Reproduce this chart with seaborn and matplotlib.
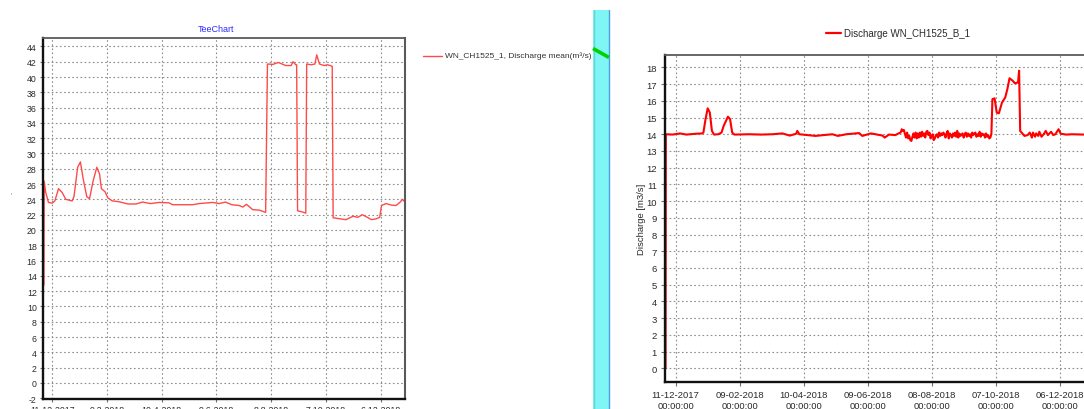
import matplotlib
matplotlib.use("Agg")
import matplotlib.pyplot as plt
from matplotlib.patches import Rectangle
from matplotlib.lines import Line2D
import pandas as pd
import seaborn as sns

# ---------------------------------------------------------------- data
# Left panel: WN_CH1525_1, discharge mean (m³/s)
left_dates = [
    "2017-12-02 00:00", "2017-12-02 06:00", "2017-12-04", "2017-12-07", "2017-12-11",
    "2017-12-14", "2017-12-18", "2017-12-22", "2017-12-26", "2018-01-02", "2018-01-04",
    "2018-01-08", "2018-01-11", "2018-01-14", "2018-01-18", "2018-01-21", "2018-01-25",
    "2018-01-29", "2018-02-01", "2018-02-03", "2018-02-07", "2018-02-10", "2018-02-15",
    "2018-02-22", "2018-03-04", "2018-03-13", "2018-03-20", "2018-03-29", "2018-04-07",
    "2018-04-18", "2018-04-22", "2018-05-07", "2018-05-14", "2018-05-21", "2018-06-05",
    "2018-06-12", "2018-06-19", "2018-06-26", "2018-07-04", "2018-07-08", "2018-07-12",
    "2018-07-19", "2018-07-26", "2018-08-02", "2018-08-04", "2018-08-10", "2018-08-16",
    "2018-08-24", "2018-08-30", "2018-09-01", "2018-09-04", "2018-09-05", "2018-09-06",
    "2018-09-10", "2018-09-15", "2018-09-16", "2018-09-21", "2018-09-25", "2018-09-27",
    "2018-09-30", "2018-10-05", "2018-10-09", "2018-10-14", "2018-10-15", "2018-10-20",
    "2018-10-29", "2018-11-06", "2018-11-11", "2018-11-16", "2018-11-20", "2018-11-26",
    "2018-12-01", "2018-12-05", "2018-12-07", "2018-12-12", "2018-12-18", "2018-12-23",
    "2018-12-27", "2018-12-30", "2019-01-01",
]
left_values = [
    12.8, 26.4, 24.9, 23.6, 23.5,
    23.8, 25.4, 24.9, 24.0, 23.8, 24.4,
    28.2, 28.9, 26.7, 24.35, 24.1, 26.45,
    28.2, 27.3, 25.4, 25.0, 24.2, 23.8,
    23.7, 23.4, 23.4, 23.65, 23.45, 23.6,
    23.55, 23.3, 23.3, 23.3, 23.45, 23.6,
    23.45, 23.65, 23.3, 23.2, 23.0, 23.35,
    22.65, 22.6, 22.3, 41.7, 41.65, 41.9,
    41.5, 41.5, 42.0, 41.6, 41.6, 22.5,
    22.4, 22.2, 41.7, 41.6, 41.7, 42.9,
    41.7, 41.5, 41.6, 41.4, 21.6, 21.5,
    21.35, 21.8, 21.65, 22.0, 21.75, 21.35,
    21.45, 21.65, 23.2, 23.45, 23.25, 23.2,
    23.6, 24.0, 23.75,
]

# Right panel: Discharge WN_CH1525_B_1 (m3/s)
right_dates = [
    "2017-12-01 12:00", "2017-12-01 18:00", "2017-12-08", "2017-12-15", "2017-12-21",
    "2017-12-30", "2018-01-05", "2018-01-06", "2018-01-08", "2018-01-10", "2018-01-12",
    "2018-01-14", "2018-01-16", "2018-01-20", "2018-01-23", "2018-01-25", "2018-01-29",
    "2018-01-31", "2018-02-02", "2018-02-04", "2018-02-18", "2018-03-01", "2018-03-12",
    "2018-03-21", "2018-03-28", "2018-04-03", "2018-04-04", "2018-04-06", "2018-04-21",
    "2018-05-07", "2018-05-12", "2018-05-20", "2018-06-01", "2018-06-04", "2018-06-12",
    "2018-06-23", "2018-06-25", "2018-06-29", "2018-07-05", "2018-07-08", "2018-07-10",
    "2018-07-11", "2018-07-12", "2018-07-13", "2018-07-14", "2018-07-15", "2018-07-16",
    "2018-07-17", "2018-07-18", "2018-07-19", "2018-07-20", "2018-07-21", "2018-07-22",
    "2018-07-23", "2018-07-24", "2018-07-25", "2018-07-26", "2018-07-27", "2018-07-28",
    "2018-07-29", "2018-07-30", "2018-07-31", "2018-08-01", "2018-08-02", "2018-08-03",
    "2018-08-04", "2018-08-05", "2018-08-06", "2018-08-07", "2018-08-08", "2018-08-09",
    "2018-08-10", "2018-08-11", "2018-08-12", "2018-08-13", "2018-08-14", "2018-08-15",
    "2018-08-16", "2018-08-17", "2018-08-18", "2018-08-19", "2018-08-20", "2018-08-21",
    "2018-08-22", "2018-08-23", "2018-08-24", "2018-08-25", "2018-08-26", "2018-08-27",
    "2018-08-28", "2018-08-29", "2018-08-30", "2018-08-31", "2018-09-01", "2018-09-02",
    "2018-09-03", "2018-09-04", "2018-09-06", "2018-09-07", "2018-09-08", "2018-09-09",
    "2018-09-10", "2018-09-11", "2018-09-12", "2018-09-13", "2018-09-14", "2018-09-15",
    "2018-09-16", "2018-09-17", "2018-09-18", "2018-09-19", "2018-09-20", "2018-09-21",
    "2018-09-22", "2018-09-23", "2018-09-24", "2018-09-25", "2018-09-26", "2018-09-27",
    "2018-09-28", "2018-09-29", "2018-09-30", "2018-10-01", "2018-10-02", "2018-10-03",
    "2018-10-04", "2018-10-06", "2018-10-08", "2018-10-10", "2018-10-13", "2018-10-16",
    "2018-10-18", "2018-10-20", "2018-10-23", "2018-10-25", "2018-10-28", "2018-10-29",
    "2018-10-30", "2018-11-01", "2018-11-03", "2018-11-06", "2018-11-08", "2018-11-10",
    "2018-11-11", "2018-11-13", "2018-11-14", "2018-11-16", "2018-11-17", "2018-11-19",
    "2018-11-21", "2018-11-23", "2018-11-25", "2018-11-28", "2018-11-30", "2018-12-02",
    "2018-12-05", "2018-12-07", "2018-12-12", "2018-12-18", "2018-12-28", "2019-01-03",
]
right_values = [
    0.0, 14.0, 13.98, 14.05, 13.98,
    14.03, 14.05, 14.1, 14.9, 15.55, 15.3,
    14.2, 13.98, 14.0, 14.1, 14.5, 15.05,
    14.9, 14.1, 13.98, 14.0, 13.98, 14.0,
    14.05, 13.92, 14.03, 14.2, 14.0, 13.9,
    14.0, 13.9, 14.0, 14.07, 13.9, 14.05,
    13.92, 13.8, 13.98, 13.95, 14.05, 14.1,
    14.3, 14.2, 14.25, 14.0, 13.8, 14.1,
    13.75, 13.9, 13.65, 13.6, 13.85, 14.05,
    13.8, 14.1, 13.75, 14.05, 13.8, 14.1,
    13.85, 14.15, 13.9, 14.05, 13.8, 14.15,
    14.2, 13.95, 14.1, 13.75, 13.9, 14.0,
    13.65, 13.75, 13.95, 14.0, 13.8, 14.1,
    13.9, 14.05, 13.95, 14.1, 14.0, 13.8,
    14.05, 14.2, 13.75, 14.05, 13.95, 13.8,
    14.05, 13.9, 14.1, 13.85, 14.2, 13.8,
    14.05, 13.9, 14.05, 13.8, 14.0, 14.1,
    13.85, 14.05, 13.9, 14.0, 13.8, 14.1,
    13.95, 14.05, 14.1, 13.85, 14.0, 13.9,
    14.15, 13.85, 14.05, 13.95, 14.0, 13.8,
    14.05, 13.85, 13.95, 13.75, 13.8, 14.0,
    16.1, 16.15, 15.3, 15.25, 15.9, 16.2,
    16.7, 17.35, 17.2, 17.05, 17.1, 17.8,
    14.2, 14.05, 13.9, 13.95, 14.1, 13.8,
    14.1, 13.85, 14.05, 13.9, 14.15, 13.85,
    14.0, 14.2, 13.95, 14.15, 13.95, 14.0,
    14.3, 14.03, 13.98, 14.0, 13.98, 14.0,
]

tick_dates = ["2017-12-11", "2018-02-09", "2018-04-10", "2018-06-09",
              "2018-08-08", "2018-10-07", "2018-12-06"]
left_tick_labels = ["11-12-2017", "9-2-2018", "10-4-2018", "9-6-2018",
                    "8-8-2018", "7-10-2018", "6-12-2018"]
right_tick_labels = ["11-12-2017\n00:00:00", "09-02-2018\n00:00:00", "10-04-2018\n00:00:00",
                     "09-06-2018\n00:00:00", "08-08-2018\n00:00:00", "07-10-2018\n00:00:00",
                     "06-12-2018\n00:00:00"]
left_yticks = list(range(-2, 45, 2))
right_yticks = list(range(0, 19, 1))


def to_time(values):
    return pd.to_datetime(values, format="ISO8601")


# ---------------------------------------------------------------- figure
sns.set_theme(style="white")
plt.rcParams["font.family"] = ["Liberation Sans", "DejaVu Sans"]
plt.rcParams["axes.unicode_minus"] = False

W, H = 1084, 410
fig = plt.figure(figsize=(W / 100, H / 100), dpi=100)
fig.patch.set_facecolor("white")


def px_axes(x0, y0, x1, y1):
    """Axes placed by pixel box (top-left origin)."""
    return fig.add_axes([x0 / W, 1 - y1 / H, (x1 - x0) / W, (y1 - y0) / H])


def style_axes(ax, spine_lw, fsize, tick_len):
    ax.set_facecolor("white")
    ax.set_axisbelow(True)
    ax.grid(True, color="#8e8e8e", linestyle=(0, (1.5, 2.2)), linewidth=0.8)
    ax.tick_params(axis="both", which="both", left=True, bottom=True,
                   length=tick_len, width=0.8, color="#707070",
                   labelsize=fsize, labelcolor="#2a2a2a", pad=2)
    for side in ("left", "bottom"):
        ax.spines[side].set_color("#111111")
        ax.spines[side].set_linewidth(spine_lw)
    for side in ("top", "right"):
        ax.spines[side].set_color("#5a5a5a")
        ax.spines[side].set_linewidth(1.3)
    ax.set_xlabel("")
    ax.set_ylabel("")


# ---- left panel
axL = px_axes(43, 39, 405, 400)
sns.lineplot(x=to_time(left_dates), y=left_values, ax=axL,
             estimator=None, sort=False, color="#ff4a4a", linewidth=1.0)
axL.set_xlim(pd.Timestamp("2017-12-01"), pd.Timestamp("2019-01-01 18:00"))
axL.set_ylim(-2.1, 45.1)
axL.set_yticks(left_yticks)
axL.set_xticks(to_time(tick_dates))
axL.set_xticklabels(left_tick_labels)
style_axes(axL, 1.7, 6.3, 2.5)
axL.spines["right"].set_linewidth(1.5)

fig.text(216 / W, 1 - 30 / H, "TeeChart", color="#2b2bff", fontsize=6.5,
         ha="center", va="center")
fig.text(12 / W, 1 - 193 / H, "-", color="#777777", fontsize=5,
         rotation=90, ha="center", va="center")

# legend of the left panel
fig.add_artist(Line2D([423 / W, 442 / W], [1 - 56.5 / H, 1 - 56.5 / H],
                      color="#ff4a4a", linewidth=1.0))
fig.text(445 / W, 1 - 56.5 / H, "WN_CH1525_1, Discharge mean(m³/s)",
         color="#333333", fontsize=6.0, ha="left", va="center")

# ---- divider strip
fig.add_artist(Rectangle((593 / W, 0), 16 / W, 1 - 11 / H,
                         facecolor="#80f5f5", edgecolor="none"))
fig.add_artist(Line2D([593.5 / W, 593.5 / W], [0, 1 - 11 / H],
                      color="#5fd6d6", linewidth=1.0))
fig.add_artist(Line2D([608.6 / W, 608.6 / W], [0, 1 - 11 / H],
                      color="#4d9fe0", linewidth=1.0))
fig.add_artist(Line2D([593 / W, 609 / W], [1 - 49.5 / H, 1 - 58.5 / H],
                      color="#00d400", linewidth=2.6, solid_capstyle="butt"))

# ---- right panel
axR = px_axes(665, 56, 1089.5, 383)
sns.lineplot(x=to_time(right_dates), y=right_values, ax=axR,
             estimator=None, sort=False, color="#ff0000", linewidth=1.5)
axR.set_xlim(pd.Timestamp("2017-12-01"), pd.Timestamp("2019-01-03"))
axR.set_ylim(-0.82, 18.74)
axR.set_yticks(right_yticks)
axR.set_xticks(to_time(tick_dates))
axR.set_xticklabels(right_tick_labels, linespacing=1.3)
style_axes(axR, 1.7, 6.8, 3)
axR.tick_params(axis="y", pad=3)
axR.tick_params(axis="x", pad=2.5)
axR.set_ylabel("Discharge [m3/s]", fontsize=6.8, color="#2a2a2a")
axR.yaxis.set_label_coords((645.5 - 665) / 424.5, 0.5)

fig.add_artist(Line2D([826 / W, 841 / W], [1 - 34.3 / H, 1 - 34.3 / H],
                      color="#ff0000", linewidth=1.6))
fig.text(844 / W, 1 - 34.3 / H, "Discharge WN_CH1525_B_1",
         color="#2a2a2a", fontsize=7.0, ha="left", va="center")

fig.savefig("out.png", dpi=100, facecolor="white")
